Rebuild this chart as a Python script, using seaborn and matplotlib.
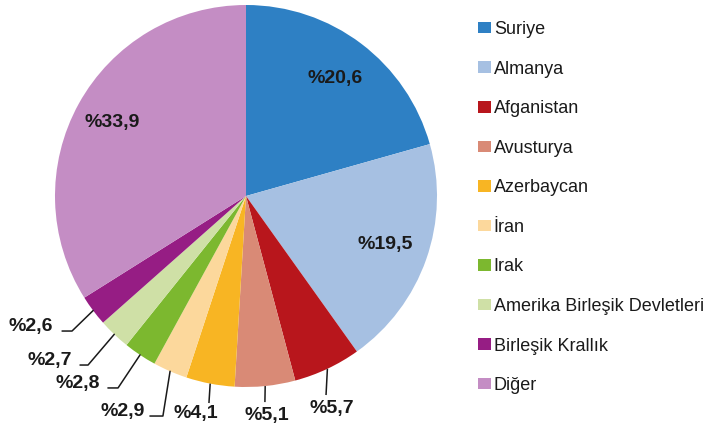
import numpy as np
import pandas as pd
import matplotlib
matplotlib.use("Agg")
import matplotlib.pyplot as plt
from matplotlib.patches import Patch
import seaborn as sns

countries = ["Suriye", "Almanya", "Afganistan", "Avusturya", "Azerbaycan", "İran", "Irak",
             "Amerika Birleşik Devletleri", "Birleşik Krallık", "Diğer"]
shares = [20.6, 19.5, 5.7, 5.1, 4.1, 2.9, 2.8, 2.7, 2.6, 33.9]
colors = ["#2E80C4", "#A6C0E2", "#B8161C", "#D98A76", "#F8B523", "#FCD89C", "#7CB82F",
          "#CFE0A6", "#961D84", "#C48DC4"]

df = pd.DataFrame({"country": countries, "share": shares})

sns.set_theme(style="white")
plt.rcParams["font.family"] = ["Liberation Sans", "DejaVu Sans"]

fig = plt.figure(figsize=(7.25, 4.32), dpi=100)
ax = fig.add_axes([0, 0, 1, 1])

wedges, _ = ax.pie(df["share"], colors=colors, startangle=90, counterclock=False,
                   radius=1.0, center=(0, 0), wedgeprops=dict(linewidth=0))

def lab(v):
    return "%" + f"{v:.1f}".replace(".", ",")

# inside labels
inside = {0: 0.77, 1: 0.77, 9: 0.80}
for i, r in inside.items():
    w = wedges[i]
    ang = np.deg2rad((w.theta1 + w.theta2) / 2)
    ax.text(r * np.cos(ang), r * np.sin(ang), lab(shares[i]), ha="center", va="center",
            fontsize=14, fontweight="bold", color="#1a1a1a")

# bottom labels: vertical leader, text below
bottom = {2: ((0.419, -1.042), (0.450, -1.110)),
          3: ((0.099, -1.079), (0.110, -1.147)),
          4: ((-0.194, -1.084), (-0.262, -1.141))}
for i, (end, tp) in bottom.items():
    w = wedges[i]
    ang = np.deg2rad((w.theta1 + w.theta2) / 2)
    sx, sy = np.cos(ang), np.sin(ang)
    ax.plot([sx, end[0]], [sy, end[1]], color="#1a1a1a", lw=1.1, solid_capstyle="butt")
    ax.text(tp[0], tp[1], lab(shares[i]), ha="center", va="center",
            fontsize=14, fontweight="bold", color="#1a1a1a")

# left labels: elbow leader, text to the left
left = {5: ((-0.435, -1.152), (-0.503, -1.152), -0.529),
        6: ((-0.670, -1.005), (-0.723, -1.005), -0.764),
        7: ((-0.827, -0.885), (-0.869, -0.885), -0.911),
        8: ((-0.911, -0.707), (-0.963, -0.707), -1.010)}
for i, (elb, hend, tx) in left.items():
    w = wedges[i]
    ang = np.deg2rad((w.theta1 + w.theta2) / 2)
    sx, sy = np.cos(ang), np.sin(ang)
    ax.plot([sx, elb[0], hend[0]], [sy, elb[1], hend[1]], color="#1a1a1a", lw=1.1)
    ax.text(tx, hend[1], lab(shares[i]), ha="right", va="baseline",
            fontsize=14, fontweight="bold", color="#1a1a1a")

R = 191.0
cx, cy = 246.0, 196.0
ax.set_xlim((0 - cx) / R, (725 - cx) / R)
ax.set_ylim((cy - 432) / R, cy / R)
ax.set_aspect("auto")
ax.axis("off")

handles = [Patch(facecolor=c, edgecolor="none") for c in colors]
leg = ax.legend(handles, countries, loc="upper left", bbox_to_anchor=(478 / 725, 1 - 21 / 432),
                bbox_transform=fig.transFigure, frameon=False, fontsize=13,
                handlelength=0.72, handleheight=0.6, handletextpad=0.15,
                labelspacing=1.25, borderaxespad=0, borderpad=0)
for t in leg.get_texts():
    t.set_color("#1a1a1a")

fig.savefig("out.png", dpi=100, facecolor="white")
